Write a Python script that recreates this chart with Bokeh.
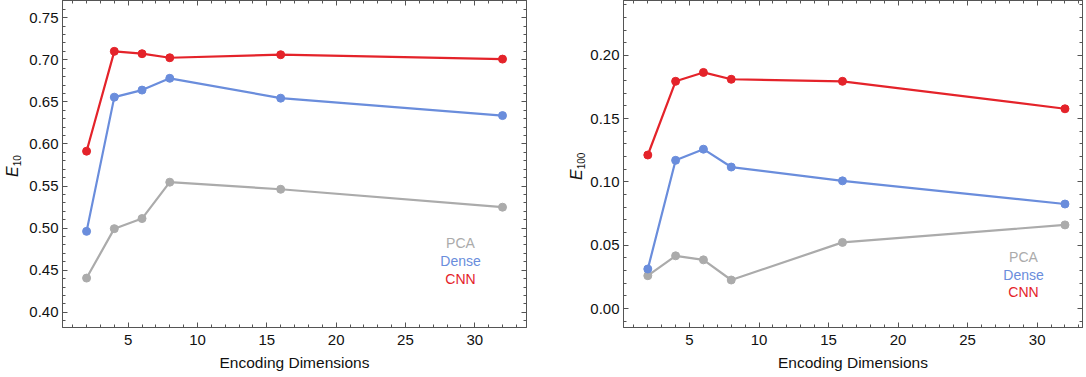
from bokeh.plotting import figure
from bokeh.models import (Range1d, LinearAxis, SingleIntervalTicker,
                          PrintfTickFormatter, CustomJSTickFormatter, Label, Div)
from bokeh.layouts import row
from bokeh.embed import file_html
from bokeh.resources import INLINE

# ---------------- data ----------------
dims = [2, 4, 6, 8, 16, 32]

pca_e10 = [0.4407, 0.4994, 0.5114, 0.5546, 0.5462, 0.5249]
dense_e10 = [0.4962, 0.6556, 0.6640, 0.6780, 0.6544, 0.6337]
cnn_e10 = [0.5914, 0.7100, 0.7072, 0.7024, 0.7060, 0.7008]

pca_e100 = [0.0260, 0.0417, 0.0385, 0.0226, 0.0523, 0.0661]
dense_e100 = [0.0313, 0.1171, 0.1259, 0.1118, 0.1009, 0.0826]
cnn_e100 = [0.1213, 0.1795, 0.1865, 0.1811, 0.1795, 0.1578]

series_names = ["PCA", "Dense", "CNN"]
x_label = "Encoding Dimensions"
y_sym = "E"
y_subs = ["10", "100"]

# ---------------- style ----------------
FONT = "Liberation Sans"
C_PCA = "#ababab"
C_DENSE = "#6a8ddc"
C_CNN = "#e4232a"
FRAME = "#555555"
TXT = "#111111"
colors = [C_PCA, C_DENSE, C_CNN]
H = 377


def style_axis(ax, labels=True, standoff=4):
    ax.axis_line_color = FRAME
    ax.axis_line_width = 1
    ax.major_tick_line_color = FRAME
    ax.minor_tick_line_color = FRAME
    ax.major_tick_in = 5
    ax.major_tick_out = 0
    ax.minor_tick_in = 3
    ax.minor_tick_out = 0
    if labels:
        ax.major_label_text_font = FONT
        ax.major_label_text_font_size = "15px"
        ax.major_label_text_color = TXT
        ax.major_label_standoff = standoff
    else:
        ax.formatter = CustomJSTickFormatter(code="return ''")
        ax.major_label_text_font_size = "0px"
        ax.major_label_standoff = 0


def make_plot(width, b_left, b_right, xr, yr, ys, leg_x, leg_y):
    p = figure(width=width, height=H,
               x_range=Range1d(*xr), y_range=Range1d(*yr),
               output_backend="svg", toolbar_location=None,
               min_border_left=b_left, min_border_right=b_right,
               min_border_top=0, min_border_bottom=50)
    p.grid.visible = False
    p.outline_line_color = FRAME
    p.background_fill_color = "white"
    p.border_fill_color = "white"

    xa = p.xaxis[0]
    xa.ticker = SingleIntervalTicker(interval=5, num_minor_ticks=5)
    style_axis(xa, standoff=7)
    xa.axis_label = x_label
    xa.axis_label_text_font = FONT
    xa.axis_label_text_font_size = "15.5px"
    xa.axis_label_text_font_style = "normal"
    xa.axis_label_text_color = TXT
    xa.axis_label_standoff = 6

    ya = p.yaxis[0]
    ya.ticker = SingleIntervalTicker(interval=0.05, num_minor_ticks=5)
    ya.formatter = PrintfTickFormatter(format="%.2f")
    style_axis(ya, standoff=4)

    top = LinearAxis(ticker=SingleIntervalTicker(interval=5, num_minor_ticks=5))
    style_axis(top, labels=False)
    p.add_layout(top, "above")
    right = LinearAxis(ticker=SingleIntervalTicker(interval=0.05, num_minor_ticks=5))
    style_axis(right, labels=False)
    p.add_layout(right, "right")

    for name, y, c in zip(series_names, ys, colors):
        p.line(dims, y, line_color=c, line_width=2.2)
        p.scatter(dims, y, size=8, fill_color=c, line_color=c)

    # legend as coloured words
    for name, c, ly in zip(series_names, colors, leg_y):
        p.add_layout(Label(x=leg_x, y=ly, x_units="screen", y_units="screen",
                           text=name, text_align="center", text_baseline="middle",
                           text_font=FONT, text_font_size="14px", text_color=c))
    return p


def ylabel_div(width, left, top, sub):
    html = (
        f'<div style="position:relative;width:{width}px;height:{H}px;">'
        f'<div style="position:absolute;left:{left}px;top:{top}px;'
        f'transform-origin:0 0;transform:rotate(-90deg);white-space:nowrap;'
        f"font-family:'{FONT}';color:{TXT};line-height:16px;height:16px;\">"
        f'<span style="font-style:italic;font-size:16px;">{y_sym}</span>'
        f'<span style="font-size:10px;position:relative;top:3px;">{sub}</span>'
        f'</div></div>'
    )
    return Div(text=html, width=width, height=H, margin=0)


d1 = ylabel_div(24, 5, 177, y_subs[0])
p1 = make_plot(536, 38, 34, (0.263, 33.73), (0.382, 0.7704),
               [pca_e10, dense_e10, cnn_e10], 398, [85, 67, 49])
d2 = ylabel_div(26, 9, 180, y_subs[1])
p2 = make_plot(500, 37, 4, (0.252, 33.26), (-0.0149, 0.2433),
               [pca_e100, dense_e100, cnn_e100], 400, [71, 53, 36])

layout = row(d1, p1, d2, p2)
open("out.html", "w").write(file_html(layout, INLINE))
